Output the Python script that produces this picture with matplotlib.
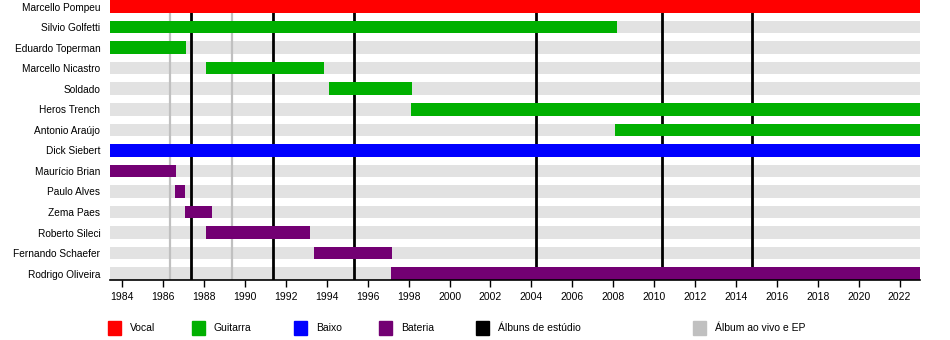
import matplotlib

matplotlib.use("Agg")
import matplotlib.pyplot as plt
from matplotlib.patches import Rectangle

plt.rcParams["font.family"] = ["Liberation Sans", "DejaVu Sans"]

# band members and their active periods (decimal years)
members = [
    "Marcello Pompeu", "Silvio Golfetti", "Eduardo Toperman", "Marcello Nicastro",
    "Soldado", "Heros Trench", "Antonio Araújo", "Dick Siebert", "Maurício Brian",
    "Paulo Alves", "Zema Paes", "Roberto Sileci", "Fernando Schaefer", "Rodrigo Oliveira",
]
starts = [1983.4, 1983.4, 1983.4, 1988.1, 1994.1, 1998.1, 2008.1, 1983.4, 1983.4,
          1986.6, 1987.05, 1988.1, 1993.35, 1997.13]
ends = [2023.0, 2008.17, 1987.13, 1993.85, 1998.14, 2023.0, 2023.0, 2023.0, 1986.65,
        1987.08, 1988.4, 1993.17, 1997.17, 2023.0]
roles = ["Vocal", "Guitarra", "Guitarra", "Guitarra", "Guitarra", "Guitarra", "Guitarra",
         "Baixo", "Bateria", "Bateria", "Bateria", "Bateria", "Bateria", "Bateria"]

studio_albums = [1987.38, 1991.37, 1995.33, 2004.25, 2010.38, 2014.79]
live_albums = [1986.31, 1989.35]

role_colors = {"Vocal": "#ff0000", "Guitarra": "#00b000", "Baixo": "#0000ff", "Bateria": "#730073"}
legend_labels = ["Vocal", "Guitarra", "Baixo", "Bateria", "Álbuns de estúdio", "Álbum ao vivo e EP"]
legend_colors = ["#ff0000", "#00b000", "#0000ff", "#730073", "#000000", "#c0c0c0"]

t0, t1 = 1983.4, 2023.0

fig = plt.figure(figsize=(9.5, 3.4), dpi=100)
ax = fig.add_axes([110 / 950, 60 / 340, 810 / 950, 280 / 340])

n = len(members)
bar_h = 0.61
for i in range(n):
    ax.barh(i, t1 - t0, left=t0, height=bar_h, color="#e2e2e2", zorder=1)
for x in live_albums:
    ax.axvline(x, color="#c0c0c0", lw=1.6, zorder=2)
for x in studio_albums:
    ax.axvline(x, color="#000000", lw=2.0, zorder=2)
for i, (s, e, r) in enumerate(zip(starts, ends, roles)):
    ax.barh(i, e - s, left=s, height=bar_h, color=role_colors[r], zorder=3)

ax.set_xlim(t0, t1)
ax.set_ylim(n - 1 + 0.31, -0.32)
ax.set_yticks(range(n))
ax.set_yticklabels(members, fontsize=7.3)
ax.tick_params(axis="y", length=0, pad=7)
ax.set_xticks(range(1984, 2023, 2))
ax.tick_params(axis="x", labelsize=7.5, length=5, width=1, direction="out", pad=4)
for side in ["top", "right", "left"]:
    ax.spines[side].set_visible(False)
ax.spines["bottom"].set_linewidth(1.2)
ax.spines["bottom"].set_zorder(4)

# legend row
legend_x = [108, 192, 294, 379, 476, 693]
for x, lab, c in zip(legend_x, legend_labels, legend_colors):
    fig.add_artist(Rectangle((x / 950, 5 / 340), 13 / 950, 14 / 340,
                             transform=fig.transFigure, color=c))
    fig.text((x + 22) / 950, 12 / 340, lab, fontsize=7.5, va="center", ha="left")

fig.savefig("out.png", dpi=100)
plt.close(fig)
